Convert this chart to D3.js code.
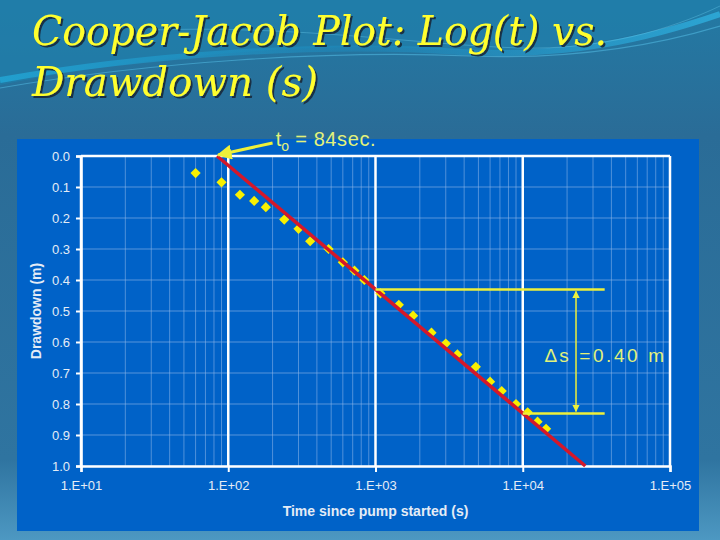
<!DOCTYPE html>
<html>
<head>
<meta charset="utf-8">
<script src="https://cdn.jsdelivr.net/npm/d3@7"></script>
<style>
  html, body { margin: 0; padding: 0; background: #2b6e98; }
  svg { display: block; }
</style>
</head>
<body>
<script>
// pumping test readings (time in seconds, drawdown in metres)
const timeSec = [60, 90, 120, 150, 180, 240, 300, 360, 480, 600, 720, 840,
  1080, 1440, 1800, 2400, 3000, 3600, 4800, 6000, 7200, 9000, 10800, 12600, 14400];
const drawdownM = [0.055, 0.085, 0.125, 0.145, 0.165, 0.205, 0.235, 0.275, 0.30, 0.343, 0.37, 0.40,
  0.443, 0.48, 0.515, 0.57, 0.605, 0.64, 0.68, 0.728, 0.758, 0.80, 0.827, 0.857, 0.88];

// straight-line fit, t0 = 84 s, slope 0.40 m per log cycle
const fitT = [84, 26600];
const fitS = [0.0, 1.0];

const xTickValues = [10, 100, 1000, 10000, 100000];
const xTickLabels = ["1.E+01", "1.E+02", "1.E+03", "1.E+04", "1.E+05"];
const yTickValues = [0, 0.1, 0.2, 0.3, 0.4, 0.5, 0.6, 0.7, 0.8, 0.9, 1.0];

const W = 720, H = 540;
const plot = { left: 81, right: 670, top: 156, bottom: 466 };

const svg = d3.select("body").append("svg")
  .attr("width", W).attr("height", H);

// ---- slide background ----
const defs = svg.append("defs");
const bg = defs.append("linearGradient").attr("id", "bg")
  .attr("x1", 0).attr("y1", 0).attr("x2", 0).attr("y2", 1);
bg.append("stop").attr("offset", "0%").attr("stop-color", "#237aa4");
bg.append("stop").attr("offset", "25%").attr("stop-color", "#2a6c97");
bg.append("stop").attr("offset", "85%").attr("stop-color", "#2f74a0");
bg.append("stop").attr("offset", "100%").attr("stop-color", "#4d98c2");
svg.append("rect").attr("width", W).attr("height", H).attr("fill", "url(#bg)");

const glow = defs.append("linearGradient").attr("id", "glow")
  .attr("x1", 0).attr("y1", 0).attr("x2", 1).attr("y2", 0);
glow.append("stop").attr("offset", "0%").attr("stop-color", "#22a8d8").attr("stop-opacity", 0.8);
glow.append("stop").attr("offset", "50%").attr("stop-color", "#1c90c4").attr("stop-opacity", 0.4);
glow.append("stop").attr("offset", "100%").attr("stop-color", "#30b8e8").attr("stop-opacity", 0.7);

const shadow = defs.append("filter").attr("id", "shadow")
  .attr("x", "-5%").attr("y", "-20%").attr("width", "110%").attr("height", "140%");
shadow.append("feDropShadow")
  .attr("dx", 2).attr("dy", 2).attr("stdDeviation", 0.6)
  .attr("flood-color", "#14283a").attr("flood-opacity", 0.9);

// swoosh at the top
svg.append("path")
  .attr("d", "M0,0 L0,85 C120,60 300,40 450,50 C560,55 650,35 720,10 L720,0 Z")
  .attr("fill", "#1f7fab").attr("opacity", 0.7);
svg.append("path")
  .attr("d", "M0,80 C140,55 320,42 460,52 C570,58 650,38 720,14")
  .attr("fill", "none").attr("stroke", "url(#glow)").attr("stroke-width", 6);
svg.append("path")
  .attr("d", "M0,88 C150,62 330,50 470,56 C580,60 660,44 720,26")
  .attr("fill", "none").attr("stroke", "#58c4ec").attr("stroke-opacity", 0.5).attr("stroke-width", 1.2);
svg.append("path")
  .attr("d", "M150,30 C300,25 420,45 520,48 C600,50 670,30 720,6")
  .attr("fill", "none").attr("stroke", "#6fd0f0").attr("stroke-opacity", 0.35).attr("stroke-width", 1);

// ---- title ----
const titleLines = ["Cooper-Jacob Plot: Log(t) vs.", "Drawdown (s)"];
const titleLen = [575, 286];
titleLines.forEach((t, i) => {
  svg.append("text")
    .attr("x", 32).attr("y", 45 + i * 51)
    .attr("font-family", "'DejaVu Serif', serif")
    .attr("font-style", "italic")
    .attr("font-size", 41)
    .attr("textLength", titleLen[i])
    .attr("lengthAdjust", "spacingAndGlyphs")
    .attr("fill", "#ffff2e")
    .attr("filter", "url(#shadow)")
    .text(t);
});

// ---- chart panel ----
svg.append("rect")
  .attr("x", 17).attr("y", 139).attr("width", 682).attr("height", 392)
  .attr("fill", "#0062c8");

const x = d3.scaleLog().domain([10, 100000]).range([plot.left, plot.right]);
const y = d3.scaleLinear().domain([0, 1]).range([plot.top, plot.bottom]);

const grid = svg.append("g");
// minor vertical grid
const minorT = [];
for (let d = 10; d < 100000; d *= 10) for (let k = 2; k <= 9; k++) minorT.push(d * k);
grid.selectAll(".minor").data(minorT).join("line")
  .attr("x1", d => x(d)).attr("x2", d => x(d))
  .attr("y1", plot.top).attr("y2", plot.bottom)
  .attr("stroke", "#8fb8ea").attr("stroke-opacity", 0.55).attr("stroke-width", 1);
// horizontal grid
grid.selectAll(".hgrid").data(yTickValues).join("line")
  .attr("x1", plot.left).attr("x2", plot.right)
  .attr("y1", d => y(d)).attr("y2", d => y(d))
  .attr("stroke", "#8fb8ea").attr("stroke-opacity", 0.6).attr("stroke-width", 1);
// major vertical grid
grid.selectAll(".major").data(xTickValues).join("line")
  .attr("x1", d => x(d)).attr("x2", d => x(d))
  .attr("y1", plot.top).attr("y2", plot.bottom)
  .attr("stroke", "#ffffff").attr("stroke-width", 2.5);
// top border
grid.append("line")
  .attr("x1", plot.left).attr("x2", plot.right)
  .attr("y1", plot.top).attr("y2", plot.top)
  .attr("stroke", "#ffffff").attr("stroke-width", 2.5);

// ---- axes ----
const xAxis = svg.append("g")
  .attr("transform", `translate(0,${plot.bottom})`)
  .call(d3.axisBottom(x).tickValues(xTickValues)
    .tickFormat((d, i) => xTickLabels[i]).tickSizeOuter(0).tickSize(6).tickPadding(9));
const yAxis = svg.append("g")
  .attr("transform", `translate(${plot.left},0)`)
  .call(d3.axisLeft(y).tickValues(yTickValues)
    .tickFormat(d3.format(".1f")).tickSizeOuter(0).tickSize(5).tickPadding(6));

[xAxis, yAxis].forEach(a => {
  a.select(".domain").attr("stroke", "#ffffff").attr("stroke-width", 2.5);
  a.selectAll(".tick line").attr("stroke", "#ffffff").attr("stroke-width", 2);
  a.selectAll(".tick text")
    .attr("fill", "#e4ecf6")
    .attr("font-family", "'Liberation Sans', Arial, sans-serif")
    .attr("font-size", 13);
});

svg.append("text")
  .attr("x", (plot.left + plot.right) / 2).attr("y", 516)
  .attr("text-anchor", "middle")
  .attr("font-family", "'Liberation Sans', Arial, sans-serif")
  .attr("font-weight", "bold").attr("font-size", 14)
  .attr("fill", "#e4ecf6")
  .text("Time since pump started (s)");
svg.append("text")
  .attr("transform", `translate(41,${(plot.top + plot.bottom) / 2}) rotate(-90)`)
  .attr("text-anchor", "middle")
  .attr("font-family", "'Liberation Sans', Arial, sans-serif")
  .attr("font-weight", "bold").attr("font-size", 14)
  .attr("fill", "#e4ecf6")
  .text("Drawdown (m)");

// ---- data points ----
const diamond = d3.symbol().type(d3.symbolSquare).size(52);
svg.append("g").selectAll("path").data(timeSec).join("path")
  .attr("d", diamond)
  .attr("transform", (d, i) => `translate(${x(d)},${y(drawdownM[i])}) rotate(45)`)
  .attr("fill", "#f8f000");

// ---- fitted line ----
svg.append("path")
  .datum(fitT.map((t, i) => [t, fitS[i]]))
  .attr("d", d3.line().x(d => x(d[0])).y(d => y(d[1])))
  .attr("stroke", "#d4182a").attr("stroke-width", 3.5).attr("fill", "none");

// ---- annotations ----
const yellow = "#eef03a";
const sAt = t => 0.40 * Math.log10(t / 84);

// t0 arrow
const t0 = fitT[0];
defs.append("marker").attr("id", "head").attr("viewBox", "0 0 10 10")
  .attr("refX", 9).attr("refY", 5).attr("markerWidth", 5).attr("markerHeight", 5)
  .attr("orient", "auto-start-reverse")
  .append("path").attr("d", "M0,0 L10,5 L0,10 Z").attr("fill", yellow);
svg.append("line")
  .attr("x1", x(200)).attr("y1", y(-0.042))
  .attr("x2", x(t0) + 1).attr("y2", y(0) - 1)
  .attr("stroke", yellow).attr("stroke-width", 3)
  .attr("marker-end", "url(#head)");
const t0Label = svg.append("text")
  .attr("x", x(210)).attr("y", 146)
  .attr("font-family", "'Liberation Sans', Arial, sans-serif")
  .attr("font-size", 20).attr("fill", "#e2f27a");
t0Label.append("tspan").text("t");
t0Label.append("tspan").attr("font-size", 14).attr("dy", 5).text("o");
t0Label.append("tspan").attr("dy", -5).attr("letter-spacing", 0.6).text(" = 84sec.");

// delta-s bracket
const bracketEndT = 36000;
const arrowT = 23000;
[1000, 10000].forEach(t => {
  svg.append("line")
    .attr("x1", x(t)).attr("x2", x(bracketEndT))
    .attr("y1", y(sAt(t))).attr("y2", y(sAt(t)))
    .attr("stroke", yellow).attr("stroke-width", 2.5);
});
svg.append("line")
  .attr("x1", x(arrowT)).attr("x2", x(arrowT))
  .attr("y1", y(sAt(1000)) + 2).attr("y2", y(sAt(10000)) - 2)
  .attr("stroke", yellow).attr("stroke-width", 1.5)
  .attr("marker-start", "url(#head)").attr("marker-end", "url(#head)");
svg.append("text")
  .attr("x", 545).attr("y", 362)
  .attr("font-family", "'Liberation Sans', Arial, sans-serif")
  .attr("font-size", 19).attr("fill", "#e2f27a")
  .attr("textLength", 119)
  .text("\u2206s =0.40 m");
</script>
</body>
</html>
